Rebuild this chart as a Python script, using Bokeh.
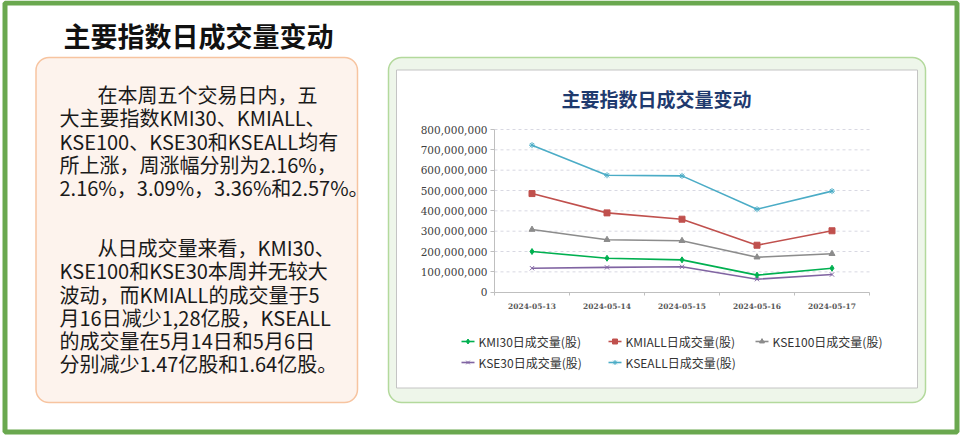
from bokeh.plotting import figure
from bokeh.models import Range1d, LinearAxis, FixedTicker, NumeralTickFormatter, BoxAnnotation
from bokeh.core.properties import value
from bokeh.embed import file_html
from bokeh.resources import INLINE

# ---- data ----
dates = ["2024-05-13", "2024-05-14", "2024-05-15", "2024-05-16", "2024-05-17"]
kmi30 = [200e6, 167e6, 159e6, 84e6, 118e6]
kmiall = [485e6, 390e6, 359e6, 231e6, 302e6]
kse100 = [308e6, 258e6, 253e6, 172e6, 189e6]
kse30 = [118e6, 122e6, 125e6, 64e6, 87e6]
kseall = [723e6, 575e6, 572e6, 408e6, 497e6]
series_names = ["KMI30日成交量(股)", "KMIALL日成交量(股)", "KSE100日成交量(股)",
                "KSE30日成交量(股)", "KSEALL日成交量(股)"]
y_ticks = [0, 100e6, 200e6, 300e6, 400e6, 500e6, 600e6, 700e6, 800e6]

title = "主要指数日成交量变动"
para1 = ["在本周五个交易日内，五",
         "大主要指数KMI30、KMIALL、",
         "KSE100、KSE30和KSEALL均有",
         "所上涨，周涨幅分别为2.16%，",
         "2.16%，3.09%，3.36%和2.57%。"]
para2 = ["从日成交量来看，KMI30、",
         "KSE100和KSE30本周并无较大",
         "波动，而KMIALL的成交量于5",
         "月16日减少1,28亿股，KSEALL",
         "的成交量在5月14日和5月6日",
         "分别减少1.47亿股和1.64亿股。"]

colors = ["#00b050", "#c0504d", "#8c8c8c", "#8064a2", "#4bacc6"]
markers = ["diamond", "square", "triangle", "x", "asterisk"]
cjk = value("Noto Sans CJK SC")

# page coords in pixels
X0, X1, Y0, Y1 = 0, 960, 0, 436
# chart plot area in page pixels
PL, PR, PT, PB = 494, 869, 129, 291.7

n = len(dates)
sx = n / (PR - PL)
vpp = y_ticks[-1] / (PB - PT)

p = figure(width=960, height=436, x_range=Range1d(X0, X1), y_range=Range1d(Y1, Y0),
           min_border=0, toolbar_location=None, output_backend="svg",
           x_axis_type=None, y_axis_type=None, outline_line_color=None)
p.extra_x_ranges = {"cx": Range1d((X0 - PL) * sx, (X1 - PL) * sx)}
p.extra_y_ranges = {"cy": Range1d(-(Y1 - PB) * vpp, (PB - Y0) * vpp)}

# frames and boxes
def box(l, r, t, b, fill, line, lw, radius=0):
    p.add_layout(BoxAnnotation(left=l, right=r, top=t, bottom=b, fill_color=fill, fill_alpha=1,
                               line_color=line, line_alpha=1, line_width=lw,
                               border_radius=radius, level="underlay"))

box(4.5, 956.5, 2.5, 431.5, None, "#6aa84f", 5)
box(35.5, 357, 57, 402, "#fdf3ed", "#f7c4a0", 1.5, 13)
box(388, 925, 57, 402, "#eef6ea", "#b3d99c", 1.5, 13)
box(396, 917, 69.5, 387.5, "white", "#c4c4c4", 1)

# page title and text box
p.text(x=[198], y=[35], text=[title], text_font=cjk, text_font_size="27px",
       text_font_style="bold", text_align="center", text_baseline="middle", text_color="#111111")
for lines, ytop, step in [(para1, 94, 23.3), (para2, 247.3, 23.1)]:
    xs = [97 if i == 0 else 59 for i in range(len(lines))]
    ys = [ytop + i * step for i in range(len(lines))]
    p.text(x=xs, y=ys, text=lines, text_font=cjk, text_font_size="20px",
           text_baseline="middle", text_color="#1a1a1a")

# chart title
p.text(x=[656], y=[98], text=[title], text_font=cjk, text_font_size="19px",
       text_font_style="bold", text_align="center", text_baseline="middle", text_color="#1f3a6e")

# grid lines
p.segment(x0=0, x1=n, y0=y_ticks[1:], y1=y_ticks[1:], x_range_name="cx", y_range_name="cy",
          line_color="#d8d8e2", line_dash="3 3", line_width=1)

# axes
yaxis = LinearAxis(x_range_name="cx", y_range_name="cy", fixed_location=0, bounds=(0, y_ticks[-1]),
                   ticker=FixedTicker(ticks=y_ticks), formatter=NumeralTickFormatter(format="0,0"))
yaxis.axis_line_color = "#bfbfbf"
yaxis.major_tick_line_color = "#bfbfbf"
yaxis.major_tick_out = 4
yaxis.major_tick_in = 0
yaxis.minor_tick_line_color = None
yaxis.major_label_standoff = 3
yaxis.major_label_text_font = "DejaVu Serif"
yaxis.major_label_text_font_size = "10.5px"
yaxis.major_label_text_color = "#404040"
p.add_layout(yaxis, "left")

xaxis = LinearAxis(x_range_name="cx", y_range_name="cy", fixed_location=0, bounds=(0, n),
                   ticker=FixedTicker(ticks=list(range(n + 1))),
                   major_label_overrides={i: "" for i in range(n + 1)})
xaxis.axis_line_color = "#bfbfbf"
xaxis.major_tick_line_color = "#bfbfbf"
xaxis.major_tick_out = 3
xaxis.major_tick_in = 0
xaxis.minor_tick_line_color = None
p.add_layout(xaxis, "below")

centers = [i + 0.5 for i in range(n)]
xlab = LinearAxis(x_range_name="cx", y_range_name="cy", fixed_location=0, bounds=(0, n),
                  ticker=FixedTicker(ticks=centers),
                  major_label_overrides={c: d for c, d in zip(centers, dates)})
xlab.axis_line_color = None
xlab.major_tick_line_color = None
xlab.minor_tick_line_color = None
xlab.major_label_standoff = 5
xlab.major_label_text_font = "DejaVu Serif"
xlab.major_label_text_font_size = "7.5px"
xlab.major_label_text_font_style = "bold"
xlab.major_label_text_color = "#595959"
p.add_layout(xlab, "below")

# series
for vals, col, mk in zip([kmi30, kmiall, kse100, kse30, kseall], colors, markers):
    p.line(centers, vals, x_range_name="cx", y_range_name="cy", line_color=col, line_width=1.6)
    p.scatter(centers, vals, x_range_name="cx", y_range_name="cy", marker=mk, size=6,
              fill_color=col, line_color=col, line_width=1)

# legend
for i, (name, col, mk) in enumerate(zip(series_names, colors, markers)):
    lx = 461 + (i % 3) * 147
    ly = 341 + (i // 3) * 21
    p.segment(x0=[lx], y0=[ly], x1=[lx + 13], y1=[ly], line_color=col, line_width=1.6)
    p.scatter([lx + 6.5], [ly], marker=mk, size=5, fill_color=col, line_color=col)
    p.text(x=[lx + 17], y=[ly], text=[name], text_font=cjk, text_font_size="12px",
           text_baseline="middle", text_color="#333333")

open("out.html", "w").write(file_html(p, INLINE))
